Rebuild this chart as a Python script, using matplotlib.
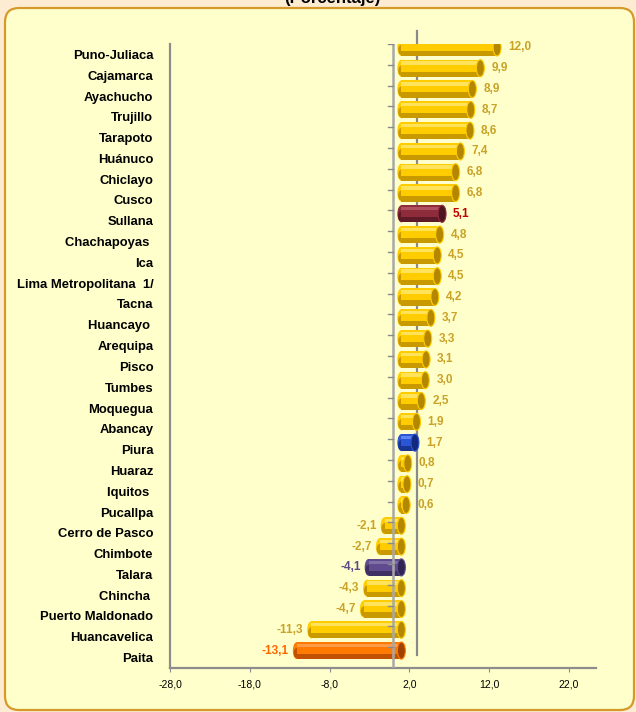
import matplotlib
matplotlib.use("Agg")
import matplotlib.pyplot as plt
from matplotlib.patches import Rectangle, Ellipse, FancyBboxPatch
from matplotlib.transforms import ScaledTranslation, IdentityTransform

plt.rcParams["font.family"] = ["Liberation Sans", "DejaVu Sans"]

regions = [
    "Puno-Juliaca", "Cajamarca", "Ayachucho", "Trujillo", "Tarapoto", "Huánuco",
    "Chiclayo", "Cusco", "Sullana", "Chachapoyas ", "Ica", "Lima Metropolitana  1/",
    "Tacna", "Huancayo ", "Arequipa", "Pisco", "Tumbes", "Moquegua", "Abancay",
    "Piura", "Huaraz", "Iquitos ", "Pucallpa", "Cerro de Pasco", "Chimbote",
    "Talara", "Chincha ", "Puerto Maldonado", "Huancavelica", "Paita",
]
values = [
    12.0, 9.9, 8.9, 8.7, 8.6, 7.4, 6.8, 6.8, 5.1, 4.8, 4.5, 4.5, 4.2, 3.7, 3.3,
    3.1, 3.0, 2.5, 1.9, 1.7, 0.8, 0.7, 0.6, -2.1, -2.7, -4.1, -4.3, -4.7, -11.3, -13.1,
]
x_ticks = [-28, -18, -8, 2, 12, 22]

# colour sets: main, light stripe, dark band, end cap, label colour
palettes = {
    "gold": ("#FFCC00", "#FFE35A", "#C99A00", "#B38700", "#C9A227"),
    "maroon": ("#8E2C3B", "#B0515F", "#5E1A26", "#4E1520", "#C00000"),
    "blue": ("#2A55D4", "#5C84F2", "#1A3494", "#15297C", "#C9A227"),
    "purple": ("#5F4B8E", "#8070A8", "#3E3062", "#302552", "#5A4A8A"),
    "orange": ("#FF7A00", "#FF9C45", "#C25200", "#A04200", "#FF6600"),
}
special = {"Sullana": "maroon", "Piura": "blue", "Talara": "purple", "Paita": "orange"}

fig = plt.figure(figsize=(6.36, 7.12), dpi=100)
fig.patch.set_facecolor("#FDEBD2")

box = FancyBboxPatch((5, 2), 629, 702, boxstyle="round,pad=0,rounding_size=14",
                     transform=IdentityTransform(), fc="#FFFFCC", ec="#D69A2A",
                     lw=1.6, zorder=0)
fig.patches.append(box)

fig.text(0.522, 1 - 2.5 / 712, "(Porcentaje)", ha="center", va="baseline",
         fontsize=12, fontweight="bold")

ax = fig.add_axes([170 / 636, 1 - 668 / 712, 426 / 636, 624 / 712], zorder=1)
ax.set_facecolor("none")
ax.set_xlim(-28, 25.4)
ax.set_ylim(len(regions) - 0.5, -0.5)

shift = ax.transData + ScaledTranslation(0.08, 0.07, fig.dpi_scale_trans)
back = ax.transData + ScaledTranslation(0.24, 0.13, fig.dpi_scale_trans)

# back wall line behind the bars
ax.plot([0, 0], [len(regions) - 0.5, -0.5], color="#8A8A8A", lw=1.6,
        transform=back, zorder=1, clip_on=False)

h = 0.82
capw = 1.0
for i, (name, v) in enumerate(zip(regions, values)):
    main, light, dark, cap, lab = palettes[special.get(name.strip(), "gold")]
    x0, x1 = min(v, 0), max(v, 0)
    w = x1 - x0
    ax.add_patch(Ellipse((x0, i), capw, h, fc=main, ec="none", transform=shift, zorder=2))
    ax.add_patch(Ellipse((x0, i + 0.12), capw * 0.8, h * 0.6, fc=dark, ec="none",
                         transform=shift, zorder=2))
    ax.add_patch(Rectangle((x0, i - h / 2), w, h, fc=main, ec="none", transform=shift, zorder=3))
    ax.add_patch(Rectangle((x0, i + h / 2 - 0.3 * h), w, 0.3 * h, fc=dark, ec="none",
                           transform=shift, zorder=3))
    ax.add_patch(Rectangle((x0, i - h / 2 + 0.1 * h), w, 0.2 * h, fc=light, ec="none",
                           transform=shift, zorder=3))
    ax.add_patch(Ellipse((x1, i), capw, h, fc=cap, ec=main, lw=0.8, transform=shift, zorder=4))

    txt = f"{v:.1f}".replace(".", ",")
    if v >= 0:
        ax.text(v, i, txt, transform=ax.transData + ScaledTranslation(0.19, 0.07, fig.dpi_scale_trans),
                ha="left", va="center", fontsize=8.5, fontweight="bold", color=lab, zorder=5)
    else:
        ax.text(v, i, txt, transform=ax.transData + ScaledTranslation(0.0, 0.07, fig.dpi_scale_trans),
                ha="right", va="center", fontsize=8.5, fontweight="bold", color=lab, zorder=5)

# front zero line with category ticks
ax.axvline(0, color="#A8A8A8", lw=1.8, zorder=6)
for b in range(len(regions) + 1):
    ax.plot([-0.7, 0], [b - 0.5, b - 0.5], color="#8A8A8A", lw=1, zorder=6)

ax.set_yticks(range(len(regions)))
ax.set_yticklabels(regions, fontsize=9.4, fontweight="bold")
ax.tick_params(axis="y", length=0, pad=12)

ax.set_xticks(x_ticks)
ax.set_xticklabels([f"{t:.1f}".replace(".", ",") for t in x_ticks], fontsize=7.5)
ax.tick_params(axis="x", length=3, color="#8A8A8A", pad=5)

for s in ["top", "right"]:
    ax.spines[s].set_visible(False)
for s in ["left", "bottom"]:
    ax.spines[s].set_color("#8C8C8C")
    ax.spines[s].set_linewidth(1.6)

fig.savefig("out.png", dpi=100, facecolor=fig.get_facecolor())
